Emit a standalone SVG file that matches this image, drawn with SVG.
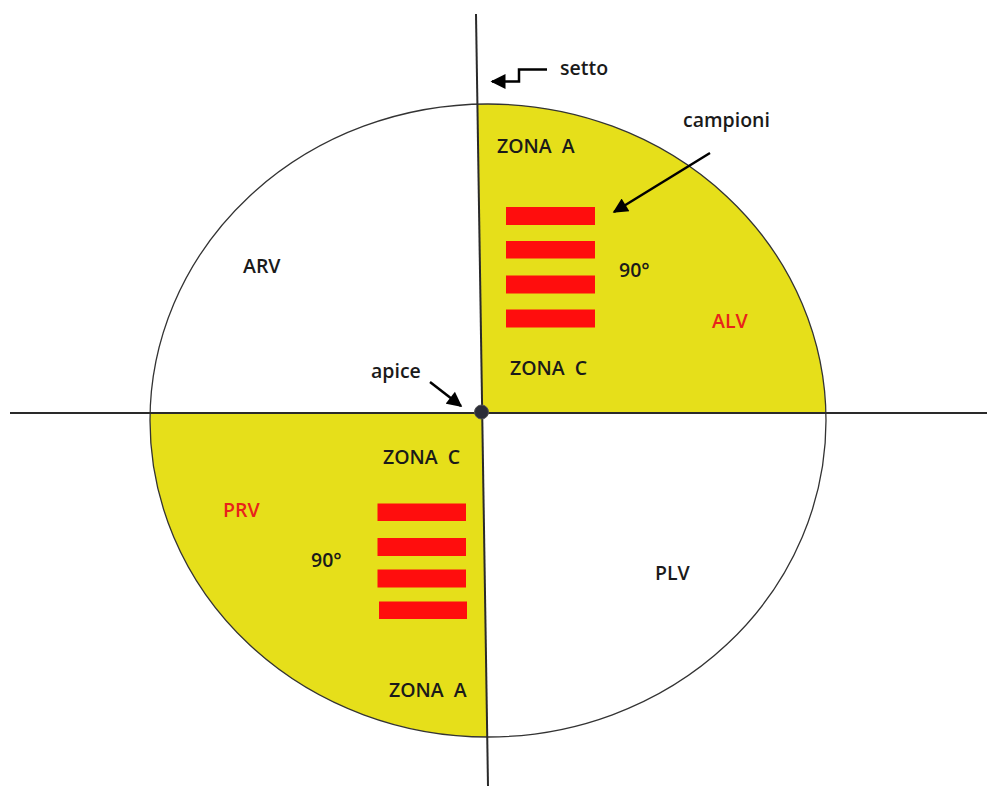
<svg xmlns="http://www.w3.org/2000/svg" width="987" height="786" viewBox="0 0 987 786">
<style>
.t{font-family:"Open Sans","Liberation Sans",sans-serif;font-size:19.5px;font-weight:600;fill:#1a1a1a}
.r{fill:#e8231b}
.bar{fill:#ff0d0d}
.ax{stroke:#2a2a2a;stroke-width:2;fill:none}
.ar{stroke:#000;stroke-width:2.5;fill:none}
</style>
<defs>
<clipPath id="ell"><ellipse cx="488" cy="420.5" rx="338" ry="316.5"/></clipPath>
<marker id="ah" viewBox="0 0 10 10" refX="9" refY="5" markerWidth="6.5" markerHeight="6" markerUnits="strokeWidth" orient="auto"><path d="M0,0 L10,5 L0,10 z" fill="#000"/></marker>
</defs>
<rect width="987" height="786" fill="#fff"/>
<g id="quadrants" clip-path="url(#ell)">
<polygon points="476,0 482.2,413 987,413 987,0" fill="#e6df1a"/>
<polygon points="482.2,413 488.5,786 0,786 0,413" fill="#e6df1a"/>
</g>
<ellipse id="ellipse" cx="488" cy="420.5" rx="338" ry="316.5" fill="none" stroke="#333" stroke-width="1.3"/>
<g id="axes">
<line class="ax" x1="476" y1="14" x2="488" y2="786"/>
<line class="ax" x1="10" y1="413" x2="987" y2="413"/>
</g>
<g id="bars-top">
<rect class="bar" x="506" y="207" width="89" height="18"/>
<rect class="bar" x="506" y="241" width="89" height="17.5"/>
<rect class="bar" x="506" y="275.5" width="89" height="18"/>
<rect class="bar" x="506" y="309.5" width="89" height="18"/>
</g>
<g id="bars-bottom">
<rect class="bar" x="377.5" y="503.5" width="88.5" height="17.5"/>
<rect class="bar" x="377.5" y="538" width="88.5" height="18"/>
<rect class="bar" x="377.5" y="569.5" width="88.5" height="18"/>
<rect class="bar" x="379" y="601.5" width="88" height="17.5"/>
</g>
<g id="apice-dot"><circle cx="481.5" cy="412" r="7" fill="#2b2d38" stroke="#555" stroke-width="1"/></g>
<g id="connectors">
<polyline class="ar" points="547,69.5 519,69.5 519,81.5 492,81.5" marker-end="url(#ah)" stroke-width="2"/>
<line class="ar" x1="710" y1="153" x2="614" y2="212" marker-end="url(#ah)"/>
<line class="ar" x1="430" y1="382" x2="461" y2="406" marker-end="url(#ah)"/>
</g>
<g id="labels">
<text class="t" x="560" y="75">setto</text>
<text class="t" x="683" y="127">campioni</text>
<text class="t" x="497" y="153" xml:space="preserve">ZONA  A</text>
<text class="t" x="619" y="277">90°</text>
<text class="t r" x="712" y="328">ALV</text>
<text class="t" x="510" y="375" xml:space="preserve">ZONA  C</text>
<text class="t" x="243" y="273">ARV</text>
<text class="t" x="371" y="378">apice</text>
<text class="t" x="383" y="464" xml:space="preserve">ZONA  C</text>
<text class="t r" x="223" y="517">PRV</text>
<text class="t" x="311" y="567">90°</text>
<text class="t" x="655" y="580">PLV</text>
<text class="t" x="389" y="697" xml:space="preserve">ZONA  A</text>
</g>
</svg>
